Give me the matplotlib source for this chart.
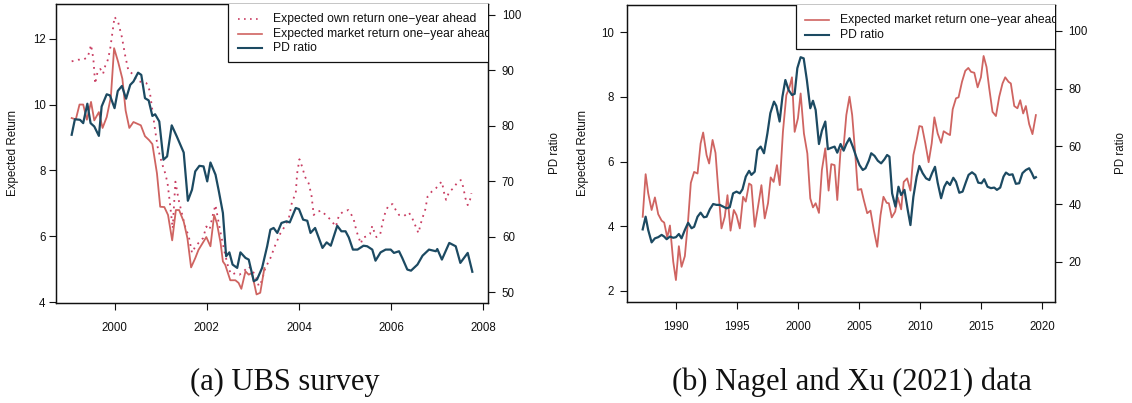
import matplotlib
matplotlib.use("Agg")
import matplotlib.pyplot as plt
from matplotlib.patches import Rectangle

# ---------------- Panel (a): UBS survey ----------------
ubs_pd_t = [1999.07, 1999.14, 1999.25, 1999.32, 1999.41, 1999.48, 1999.56, 1999.66, 1999.72, 1999.83,
            1999.90, 2000.00, 2000.07, 2000.16, 2000.25, 2000.34, 2000.41, 2000.51, 2000.58, 2000.66,
            2000.74, 2000.82, 2000.88, 2000.97, 2001.06, 2001.14, 2001.24, 2001.35, 2001.50, 2001.59,
            2001.68, 2001.75, 2001.84, 2001.93, 2002.01, 2002.08, 2002.19, 2002.26, 2002.35, 2002.42,
            2002.49, 2002.56, 2002.66, 2002.73, 2002.84, 2002.91, 2003.02, 2003.09, 2003.20, 2003.31,
            2003.38, 2003.45, 2003.53, 2003.62, 2003.73, 2003.80, 2003.93, 2004.00, 2004.09, 2004.18,
            2004.25, 2004.35, 2004.51, 2004.60, 2004.69, 2004.83, 2004.92, 2005.01, 2005.08, 2005.17,
            2005.27, 2005.40, 2005.48, 2005.59, 2005.66, 2005.77, 2005.88, 2005.99, 2006.06, 2006.17,
            2006.24, 2006.35, 2006.43, 2006.57, 2006.68, 2006.82, 2006.97, 2007.00, 2007.10, 2007.26,
            2007.40, 2007.50, 2007.66, 2007.76]
ubs_pd = [78.4, 81.2, 81.1, 80.5, 84.0, 80.5, 79.9, 78.2, 83.5, 85.7,
          85.5, 83.2, 86.3, 87.2, 84.9, 87.4, 88.0, 89.6, 89.2, 85.0,
          84.6, 81.8, 82.1, 80.8, 73.9, 74.5, 80.1, 78.1, 75.2, 66.5,
          68.5, 71.8, 72.8, 72.7, 70.0, 73.4, 71.2, 68.3, 64.3, 56.5,
          57.2, 55.0, 54.4, 57.2, 56.2, 55.9, 52.0, 52.3, 54.4, 58.3,
          61.3, 61.6, 60.7, 62.5, 62.8, 62.6, 65.2, 65.0, 63.1, 62.9,
          60.7, 61.6, 58.0, 59.0, 58.4, 62.0, 61.0, 61.0, 59.9, 57.7,
          57.7, 58.4, 58.3, 57.7, 55.7, 57.2, 57.7, 57.7, 57.1, 57.4,
          56.2, 54.1, 53.9, 55.0, 56.6, 57.7, 57.4, 57.8, 55.9, 58.9,
          58.3, 55.3, 57.1, 53.7]

ubs_mkt_t = [1999.07, 1999.16, 1999.24, 1999.32, 1999.40, 1999.49, 1999.56, 1999.66, 1999.74, 1999.83,
             1999.92, 1999.99, 2000.08, 2000.17, 2000.24, 2000.32, 2000.41, 2000.57, 2000.66, 2000.75,
             2000.82, 2000.92, 2000.99, 2001.08, 2001.16, 2001.25, 2001.33, 2001.40, 2001.50, 2001.58,
             2001.66, 2001.75, 2001.82, 2001.99, 2002.08, 2002.16, 2002.22, 2002.30, 2002.35, 2002.40,
             2002.51, 2002.62, 2002.69, 2002.75, 2002.84, 2002.91, 2002.98, 2003.08, 2003.16, 2003.25]
ubs_mkt = [9.59, 9.55, 10.0, 10.0, 9.54, 10.08, 9.52, 9.77, 9.29, 9.62,
           10.23, 11.71, 11.28, 10.78, 9.82, 9.29, 9.47, 9.37, 9.04, 8.92,
           8.80, 7.91, 6.90, 6.89, 6.65, 5.88, 6.80, 6.80, 6.45, 5.95,
           5.06, 5.34, 5.59, 5.98, 5.70, 6.65, 6.40, 5.80, 5.24, 5.14,
           4.67, 4.67, 4.59, 4.41, 4.94, 4.84, 4.89, 4.24, 4.29, 5.04]

ubs_own_t = [1999.07, 1999.21, 1999.32, 1999.42, 1999.49, 1999.54, 1999.58, 1999.63, 1999.69, 1999.75,
             1999.80, 1999.85, 1999.90, 1999.94, 2000.00, 2000.08, 2000.16, 2000.23, 2000.30, 2000.39,
             2000.48, 2000.59, 2000.69, 2000.76, 2000.83, 2000.88, 2000.94, 2001.03, 2001.10, 2001.15,
             2001.21, 2001.26, 2001.32, 2001.39, 2001.46, 2001.53, 2001.61, 2001.68, 2001.75, 2001.82,
             2001.92, 2001.99, 2002.06, 2002.14, 2002.19, 2002.26, 2002.33, 2002.40, 2002.48, 2002.55,
             2002.62, 2002.71, 2002.80, 2002.91, 2002.98, 2003.06, 2003.13, 2003.19, 2003.27, 2003.38,
             2003.49, 2003.60, 2003.69, 2003.78, 2003.85, 2003.93, 2003.96, 2004.01, 2004.07, 2004.13,
             2004.21, 2004.27, 2004.32, 2004.40, 2004.48, 2004.58, 2004.69, 2004.80, 2004.87, 2004.96,
             2005.07, 2005.14, 2005.19, 2005.25, 2005.30, 2005.34, 2005.39, 2005.47, 2005.54, 2005.59,
             2005.63, 2005.68, 2005.76, 2005.81, 2005.88, 2005.95, 2006.03, 2006.10, 2006.17, 2006.28,
             2006.38, 2006.45, 2006.50, 2006.55, 2006.59, 2006.66, 2006.70, 2006.74, 2006.79, 2006.88,
             2006.97, 2007.06, 2007.10, 2007.15, 2007.19, 2007.26, 2007.35, 2007.43, 2007.51, 2007.56,
             2007.61, 2007.66, 2007.71, 2007.74]
ubs_own = [11.31, 11.36, 11.36, 11.44, 11.81, 11.39, 10.63, 10.98, 11.08, 10.93,
           11.18, 11.34, 11.64, 12.04, 12.66, 12.49, 12.04, 11.49, 11.03, 10.93,
           10.73, 10.68, 10.65, 10.43, 9.73, 9.22, 8.67, 8.21, 7.91, 7.61,
           6.90, 6.24, 7.66, 7.11, 6.70, 6.30, 6.00, 5.50, 5.69, 5.80,
           5.95, 6.30, 6.20, 6.70, 6.95, 6.40, 5.90, 5.44, 4.99, 4.84,
           4.89, 4.84, 4.94, 5.09, 4.99, 4.79, 4.49, 4.64, 5.04, 5.34,
           5.75, 6.10, 6.30, 6.55, 7.05, 7.31, 7.91, 8.34, 8.11, 7.81,
           7.61, 7.26, 6.65, 6.75, 6.78, 6.65, 6.50, 6.30, 6.65, 6.75,
           6.80, 6.65, 6.50, 6.15, 5.95, 5.78, 5.97, 6.00, 6.07, 6.32,
           6.15, 5.98, 6.05, 6.40, 6.77, 6.95, 6.98, 6.80, 6.65, 6.62,
           6.73, 6.58, 6.40, 6.25, 6.10, 6.48, 6.65, 6.82, 7.21, 7.36,
           7.46, 7.61, 7.66, 7.31, 7.11, 7.36, 7.46, 7.63, 7.71, 7.51,
           7.16, 6.95, 7.11, 7.31]

# ---------------- Panel (b): Nagel and Xu (2021) ----------------
nx_mkt_t = [1987.28, 1987.52, 1987.73, 1988.01, 1988.28, 1988.55, 1988.83, 1989.04, 1989.29, 1989.51,
            1989.78, 1990.00, 1990.24, 1990.46, 1990.73, 1991.00, 1991.22, 1991.49, 1991.77, 1992.02,
            1992.23, 1992.51, 1992.72, 1993.00, 1993.24, 1993.45, 1993.73, 1994.00, 1994.22, 1994.47,
            1994.74, 1994.96, 1995.23, 1995.50, 1995.72, 1995.99, 1996.18, 1996.45, 1996.72, 1997.00,
            1997.27, 1997.54, 1997.76, 1998.00, 1998.27, 1998.50, 1998.76, 1999.04, 1999.31, 1999.50,
            1999.72, 1999.99, 2000.21, 2000.48, 2000.76, 2001.00, 2001.22, 2001.44, 2001.71, 2001.95,
            2002.23, 2002.50, 2002.72, 2002.99, 2003.21, 2003.48, 2003.73, 2003.95, 2004.21, 2004.43,
            2004.68, 2004.89, 2005.17, 2005.38, 2005.66, 2005.93, 2006.20, 2006.48, 2006.75, 2006.99,
            2007.26, 2007.43, 2007.67, 2007.95, 2008.16, 2008.44, 2008.65, 2008.93, 2009.20, 2009.44,
            2009.71, 2009.93, 2010.15, 2010.42, 2010.69, 2010.94, 2011.16, 2011.43, 2011.71, 2011.92,
            2012.20, 2012.44, 2012.66, 2012.93, 2013.14, 2013.42, 2013.69, 2013.94, 2014.16, 2014.43,
            2014.70, 2014.97, 2015.19, 2015.43, 2015.65, 2015.92, 2016.20, 2016.47, 2016.74, 2016.96,
            2017.23, 2017.42, 2017.70, 2017.96, 2018.19, 2018.43, 2018.65, 2018.92, 2019.19, 2019.47]
nx_mkt = [4.29, 5.61, 5.02, 4.50, 4.89, 4.37, 4.17, 4.11, 3.65, 4.02,
          2.90, 2.33, 3.38, 2.74, 3.07, 4.19, 5.34, 5.68, 5.63, 6.56,
          6.90, 6.20, 5.94, 6.67, 6.27, 5.22, 3.93, 4.29, 4.96, 3.86,
          4.50, 4.34, 3.93, 4.91, 4.76, 5.32, 5.27, 3.98, 4.60, 5.27,
          4.24, 4.71, 5.51, 5.37, 5.89, 5.27, 6.92, 8.06, 8.32, 8.61,
          6.92, 7.34, 8.11, 6.87, 6.25, 4.86, 4.58, 4.71, 4.41, 5.74,
          6.41, 5.10, 5.92, 5.89, 4.81, 6.36, 6.46, 7.44, 8.01, 7.44,
          6.25, 5.12, 5.15, 4.81, 4.40, 4.48, 3.88, 3.36, 4.34, 4.91,
          4.72, 4.71, 4.27, 4.45, 4.89, 4.52, 5.37, 5.48, 5.10, 6.20,
          6.67, 7.10, 7.08, 6.56, 5.98, 6.56, 7.37, 6.87, 6.58, 6.94,
          6.87, 6.82, 7.62, 7.96, 7.99, 8.47, 8.81, 8.90, 8.78, 8.75,
          8.30, 8.61, 9.27, 8.93, 8.27, 7.54, 7.41, 8.01, 8.42, 8.61,
          8.47, 8.42, 7.72, 7.65, 7.90, 7.49, 7.72, 7.16, 6.85, 7.44]

nx_pd_t = [1987.28, 1987.52, 1987.73, 1988.01, 1988.28, 1988.55, 1988.83, 1989.04, 1989.24, 1989.51,
           1989.78, 1990.00, 1990.24, 1990.46, 1990.73, 1991.00, 1991.28, 1991.49, 1991.77, 1992.02,
           1992.29, 1992.51, 1992.78, 1993.05, 1993.32, 1993.59, 1993.86, 1994.14, 1994.41, 1994.68,
           1994.96, 1995.23, 1995.45, 1995.72, 1995.99, 1996.18, 1996.45, 1996.67, 1996.94, 1997.21,
           1997.49, 1997.73, 1998.03, 1998.22, 1998.49, 1998.72, 1998.96, 1999.23, 1999.50, 1999.72,
           1999.94, 2000.21, 2000.46, 2000.72, 2001.00, 2001.22, 2001.44, 2001.71, 2001.95, 2002.23,
           2002.44, 2002.72, 2002.99, 2003.21, 2003.48, 2003.73, 2003.95, 2004.21, 2004.48, 2004.76,
           2005.03, 2005.30, 2005.52, 2005.79, 2005.99, 2006.26, 2006.53, 2006.80, 2007.07, 2007.29,
           2007.48, 2007.70, 2007.97, 2008.22, 2008.44, 2008.71, 2008.98, 2009.20, 2009.44, 2009.71,
           2009.93, 2010.20, 2010.48, 2010.75, 2010.97, 2011.21, 2011.43, 2011.71, 2011.97, 2012.19,
           2012.44, 2012.71, 2012.93, 2013.20, 2013.47, 2013.75, 2013.96, 2014.24, 2014.51, 2014.75,
           2015.02, 2015.24, 2015.51, 2015.79, 2016.06, 2016.28, 2016.55, 2016.82, 2017.02, 2017.29,
           2017.56, 2017.83, 2018.10, 2018.37, 2018.65, 2018.92, 2019.14, 2019.33, 2019.47]
nx_pd = [31.2, 35.6, 31.0, 26.7, 28.1, 28.5, 29.3, 28.7, 27.8, 28.7,
         28.3, 28.5, 29.6, 28.1, 31.0, 33.5, 31.6, 32.1, 35.6, 37.0,
         35.4, 35.6, 38.2, 40.0, 39.7, 39.7, 39.1, 38.5, 38.9, 43.7,
         44.3, 43.7, 45.1, 49.5, 51.5, 50.1, 51.2, 58.7, 59.9, 57.6,
         64.5, 71.5, 75.5, 74.0, 68.6, 77.2, 83.0, 79.5, 77.8, 78.2,
         87.1, 90.9, 90.5, 83.0, 73.2, 75.8, 72.6, 60.8, 65.4, 68.6,
         59.0, 59.5, 59.9, 57.8, 60.8, 58.5, 60.8, 62.8, 59.9, 56.4,
         53.5, 51.8, 52.4, 55.0, 57.6, 56.7, 55.0, 54.1, 55.5, 57.0,
         56.4, 43.7, 39.1, 46.0, 43.1, 44.9, 37.9, 32.7, 42.5, 49.5,
         53.2, 50.7, 48.9, 48.3, 50.7, 52.9, 47.4, 42.0, 46.0, 47.7,
         46.6, 49.1, 47.7, 43.9, 44.3, 47.7, 50.1, 51.0, 50.1, 47.4,
         47.2, 48.6, 46.0, 45.5, 45.7, 44.9, 45.7, 49.5, 50.9, 50.1,
         50.3, 47.0, 47.2, 50.7, 51.8, 52.4, 50.7, 48.9, 49.3]

# ticks / labels
ubs_xticks = [2000, 2002, 2004, 2006, 2008]
ubs_yticks = [4, 6, 8, 10, 12]
ubs_pdticks = [50, 60, 70, 80, 90, 100]
nx_xticks = [1990, 1995, 2000, 2005, 2010, 2015, 2020]
nx_yticks = [2, 4, 6, 8, 10]
nx_pdticks = [20, 40, 60, 80, 100]

lab_own = "Expected own return one\u2212year ahead"
lab_mkt = "Expected market return one\u2212year ahead"
lab_pd = "PD ratio"
captions = ["(a) UBS survey", "(b) Nagel and Xu (2021) data"]

RED = "#CF6461"
BLUE = "#1C4A62"
PINK = "#C93D62"
FONT = "Liberation Sans"

W, H = 1132, 403
fig = plt.figure(figsize=(W / 100, H / 100), dpi=100)
plt.rcParams['font.family'] = [FONT, 'DejaVu Sans']


def px_axes(x0, y0, x1, y1):
    return fig.add_axes([x0 / W, 1 - y1 / H, (x1 - x0) / W, (y1 - y0) / H])


def style(ax, side_pad):
    for s in ax.spines.values():
        s.set_linewidth(0.9)
        s.set_color("#111111")
    ax.tick_params(direction="out", length=5, width=0.8, labelsize=8.3, colors="#111111")
    ax.tick_params(axis="y", pad=side_pad)
    ax.tick_params(axis="x", pad=9)


def legend(ax, x0, y0, rows, handles):
    ax.add_patch(Rectangle((x0, y0), 1.5, 1.2, transform=ax.transAxes, facecolor="white",
                           edgecolor="#111111", linewidth=0.9, clip_on=True, zorder=10))
    for (yy, label), kw in zip(rows, handles):
        ax.plot([x0 + 0.022, x0 + 0.078], [yy, yy], transform=ax.transAxes, clip_on=True,
                zorder=11, **kw)
        ax.text(x0 + 0.103, yy, label, transform=ax.transAxes, fontsize=8.7, va="center",
                ha="left", clip_on=True, zorder=11, color="#111111")


# ---- panel a ----
axa = px_axes(56, 4, 488, 303)
axa.plot(ubs_own_t, ubs_own, color=PINK, lw=1.3, ls=(0, (1, 2.6)))
axa.plot(ubs_mkt_t, ubs_mkt, color=RED, lw=1.3)
axa.set_xlim(1998.73, 2008.1)
axa.set_ylim(3.98, 13.05)
axa.set_xticks(ubs_xticks)
axa.set_yticks(ubs_yticks)
style(axa, 2.5)
axa2 = axa.twinx()
axa2.plot(ubs_pd_t, ubs_pd, color=BLUE, lw=1.6)
axa2.set_ylim(48.07, 101.98)
axa2.set_yticks(ubs_pdticks)
style(axa2, 5)
legend(axa2, 0.399, 0.806, [(0.950, lab_own), (0.900, lab_mkt), (0.853, lab_pd)],
       [dict(color=PINK, lw=1.2, ls=(0, (1, 2.6))), dict(color=RED, lw=1.2), dict(color=BLUE, lw=1.5)])

# ---- panel b ----
axb = px_axes(626.7, 5.3, 1055.3, 301.7)
axb.plot(nx_mkt_t, nx_mkt, color=RED, lw=1.3)
axb.set_xlim(1985.97, 2021.06)
axb.set_ylim(1.66, 10.84)
axb.set_xticks(nx_xticks)
axb.set_yticks(nx_yticks)
style(axb, 4)
axb2 = axb.twinx()
axb2.plot(nx_pd_t, nx_pd, color=BLUE, lw=1.6)
axb2.set_ylim(6.13, 108.9)
axb2.set_yticks(nx_pdticks)
style(axb2, 4.5)
legend(axb2, 0.395, 0.853, [(0.950, lab_mkt), (0.900, lab_pd)],
       [dict(color=RED, lw=1.2), dict(color=BLUE, lw=1.5)])

# axis titles
for x, txt in [(13, "Expected Return"), (555, "PD ratio"), (583, "Expected Return"), (1121.5, "PD ratio")]:
    fig.text(x / W, 1 - 153.5 / H, txt, rotation=90, ha="center", va="center", fontsize=8.3,
             color="#111111")

# captions
for x, txt in [(285, captions[0]), (852, captions[1])]:
    fig.text(x / W, 1 - 382 / H, txt, ha="center", va="center", fontsize=22,
             family="Liberation Serif", color="#111111")

fig.savefig("out.png", dpi=100)
